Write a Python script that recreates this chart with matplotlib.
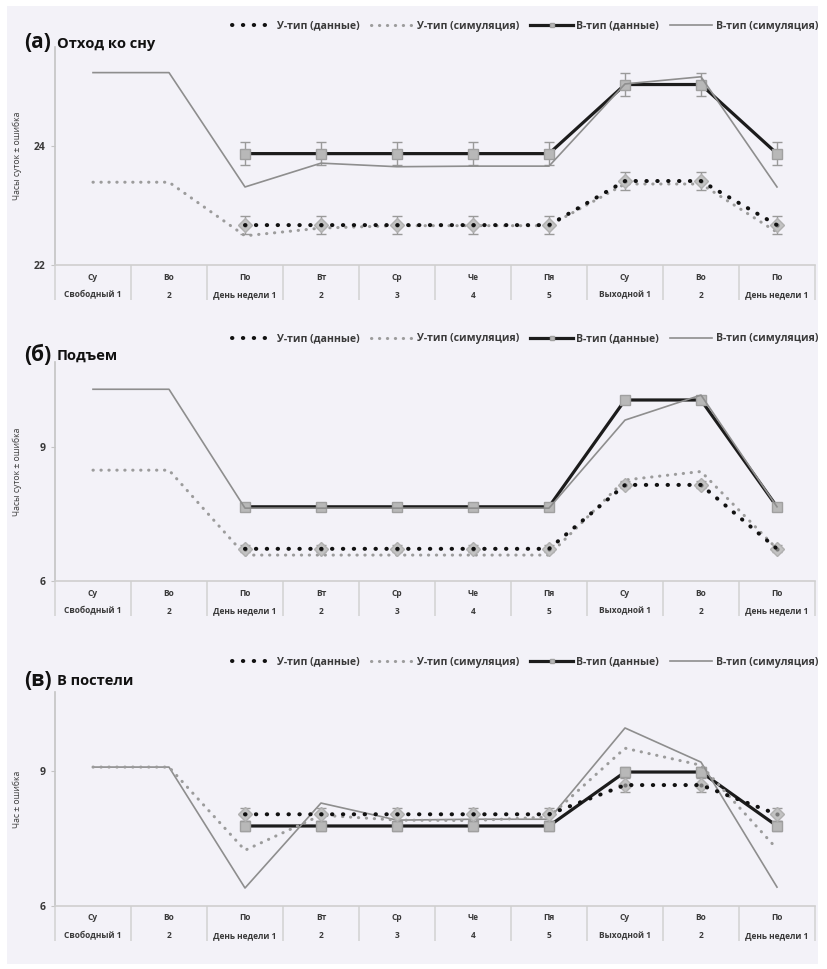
import numpy as np
import matplotlib
matplotlib.use("Agg")
import matplotlib.pyplot as plt
from matplotlib.patches import Rectangle

plt.rcParams['font.family'] = ['Open Sans', 'DejaVu Sans']

nan = np.nan
days = ['Су', 'Во', 'По', 'Вт', 'Ср', 'Че', 'Пя', 'Су', 'Во', 'По']
phase = ['Свободный 1', '2', 'День недели 1', '2', '3', '4', '5', 'Выходной 1', '2', 'День недели 1']

# (a) отход ко сну
y_data_a = [nan, nan, 22.67, 22.67, 22.67, 22.67, 22.67, 23.41, 23.41, 22.67]
y_err_a = 0.15
y_sim_a = [23.39, 23.39, 22.49, 22.62, 22.66, 22.66, 22.66, 23.36, 23.36, 22.55]
b_data_a = [nan, nan, 23.87, 23.87, 23.87, 23.87, 23.87, 25.03, 25.03, 23.87]
b_err_a = 0.19
b_sim_a = [25.23, 25.23, 23.31, 23.71, 23.65, 23.66, 23.66, 25.04, 25.16, 23.31]

# (б) подъем
y_data_b = [nan, nan, 6.72, 6.72, 6.72, 6.72, 6.72, 8.15, 8.15, 6.72]
y_err_b = 0.08
y_sim_b = [8.48, 8.48, 6.58, 6.58, 6.58, 6.58, 6.58, 8.26, 8.45, 6.72]
b_data_b = [nan, nan, 7.66, 7.66, 7.66, 7.66, 7.66, 10.05, 10.05, 7.66]
b_err_b = 0.08
b_sim_b = [10.29, 10.29, 7.63, 7.63, 7.63, 7.63, 7.63, 9.60, 10.16, 7.66]

# (в) в постели
y_data_c = [nan, nan, 8.04, 8.04, 8.04, 8.04, 8.04, 8.69, 8.69, 8.04]
y_err_c = 0.15
y_sim_c = [9.09, 9.09, 7.24, 8.02, 7.91, 7.90, 7.98, 9.51, 9.13, 7.27]
b_data_c = [nan, nan, 7.78, 7.78, 7.78, 7.78, 7.78, 8.98, 8.98, 7.78]
b_err_c = 0.12
b_sim_c = [9.09, 9.09, 6.40, 8.29, 7.91, 7.93, 7.93, 9.96, 9.20, 6.42]

W, H = 827, 969
fig = plt.figure(figsize=(W / 100, H / 100), dpi=100, facecolor='white')
fig.patches.append(Rectangle((7 / W, 5 / H), 811 / W, 958 / H, transform=fig.transFigure,
                             facecolor='#f3f2f8', edgecolor='none', zorder=-10))

# tag, title, ylabel, top px, bottom px, ylim, yticks, legend y px, title y px, data...
panels = [
    ('(a)', 'Отход ко сну', 'Часы суток ± ошибка', 47, 265, (22, 25.66), [22, 24], 26, 43,
     y_data_a, y_err_a, y_sim_a, b_data_a, b_err_a, b_sim_a),
    ('(б)', 'Подъем', 'Часы суток ± ошибка', 362, 581, (6, 10.9), [6, 9], 339, 355,
     y_data_b, y_err_b, y_sim_b, b_data_b, b_err_b, b_sim_b),
    ('(в)', 'В постели', 'Час ± ошибка', 692, 906, (6, 10.76), [6, 9], 662, 680,
     y_data_c, y_err_c, y_sim_c, b_data_c, b_err_c, b_sim_c),
]

x = np.arange(len(days))
txt_col = '#3a3a3a'

for (tag, title, ylab, top, bot, ylim, yt, leg_y, tit_y,
     yd, ye, ys, bd, be, bs) in panels:
    h_px = bot - top
    ax = fig.add_axes([55 / W, 1 - bot / H, 760 / W, h_px / H])
    ax.set_facecolor('none')
    ax.set_xlim(-0.5, 9.5)
    ax.set_ylim(*ylim)

    # В-тип симуляция
    l4, = ax.plot(x, bs, color='#8e8e8e', lw=1.2, zorder=3, label='В-тип (симуляция)')
    # В-тип данные
    ax.errorbar(x, bd, yerr=be, fmt='none', ecolor='#9a9a9a', elinewidth=1, capsize=3.5, zorder=2)
    ax.plot(x, bd, ls='none', marker='s', ms=6.5, mfc='#b8b8b8', mec='#a0a0a0', zorder=2.6)
    l3, = ax.plot(x, bd, color='#1c1c1c', lw=2.3, marker='s', ms=3.5, mfc='#b8b8b8',
                  mec='#a0a0a0', zorder=2.5, label='В-тип (данные)')
    # У-тип симуляция
    l2, = ax.plot(x, ys, color='#9c9c9c', lw=2.2, ls=(0, (0.1, 2.5)), dash_capstyle='round',
                  zorder=4, label='У-тип (симуляция)')
    # У-тип данные
    ax.errorbar(x, yd, yerr=ye, fmt='none', ecolor='#9a9a9a', elinewidth=1, capsize=3.5, zorder=4)
    ax.plot(x, yd, ls='none', marker='D', ms=7, mfc='#c2c2c2', mec='#b0b0b0', zorder=4.5)
    ax.plot(x, yd, ls='none', marker='o', ms=3, mfc='#7a7a7a', mec='none', zorder=4.6)
    l1, = ax.plot(x, yd, color='#111111', lw=2.9, ls=(0, (0.1, 2.6)), dash_capstyle='round',
                  zorder=5, label='У-тип (данные)')

    for s in ['top', 'right']:
        ax.spines[s].set_visible(False)
    ax.spines['left'].set_color('#c4c4c4')
    ax.spines['bottom'].set_color('#cfcfcf')
    ax.spines['left'].set_linewidth(1.2)
    ax.spines['bottom'].set_linewidth(1.2)
    ax.set_yticks(yt)
    ax.set_yticklabels([str(v) for v in yt], fontsize=7.5, fontweight='bold', color=txt_col)
    ax.tick_params(axis='y', length=3, color='#c4c4c4', pad=4)
    ax.set_xticks([])

    # табличная подпись оси X
    tr = ax.get_xaxis_transform()
    ax.vlines(np.arange(-0.5, 10, 1), -35 / h_px, 0, transform=tr, colors='#d2d2d2',
              lw=1.1, clip_on=False)
    for i in range(len(days)):
        ax.text(i, -12 / h_px, days[i], transform=tr, ha='center', va='center',
                fontsize=6, color=txt_col, fontweight='bold')
        ax.text(i, -30 / h_px, phase[i], transform=tr, ha='center', va='center',
                fontsize=6, color=txt_col, fontweight='bold')

    ax.set_ylabel(ylab, fontsize=6.2, color=txt_col)
    ax.yaxis.set_label_coords((22 - 55) / 760, 0.5)

    leg = fig.legend(handles=[l1, l2, l3, l4], loc='center right',
                     bbox_to_anchor=(818 / W, 1 - leg_y / H),
                     ncol=4, frameon=False, handlelength=4.0, columnspacing=1.1,
                     handletextpad=0.3, borderaxespad=0, borderpad=0,
                     prop={'size': 7.6, 'weight': 'bold'})
    for t in leg.get_texts():
        t.set_color(txt_col)

    fig.text(24 / W, 1 - tit_y / H, tag, fontsize=15, fontweight='bold',
             color='#111111', ha='left', va='center')
    fig.text(57 / W, 1 - (tit_y + 1) / H, title, fontsize=10.5, fontweight='bold',
             color='#111111', ha='left', va='center')

fig.savefig('out.png', dpi=100, facecolor=fig.get_facecolor())
